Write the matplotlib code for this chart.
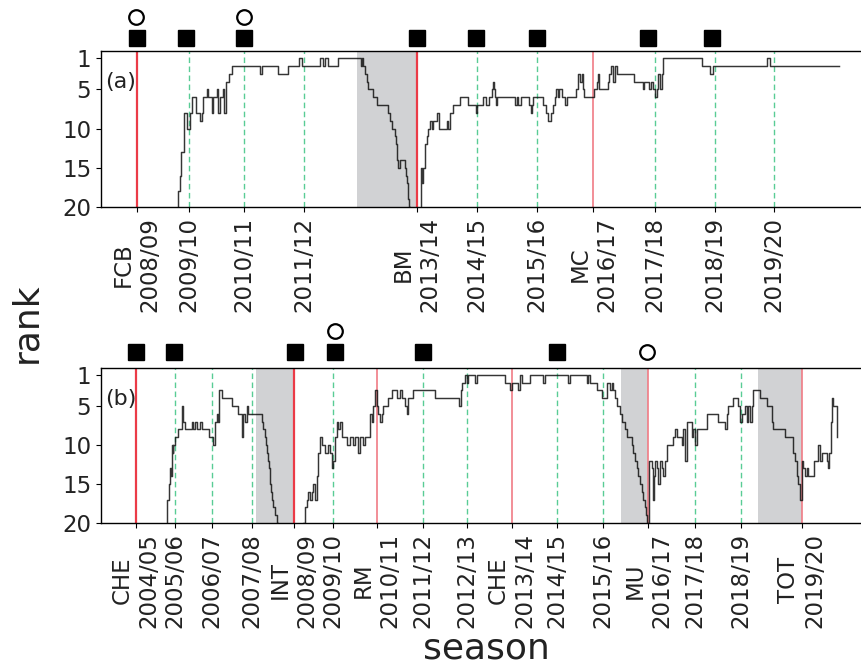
import numpy as np
import matplotlib.pyplot as plt
import matplotlib.transforms as mtransforms

# ---- panel (a) ----
a_x = [76.3, 77.3, 79, 80, 83.3, 85.7, 89, 90.7, 95, 99, 100.7, 102.3, 105.7, 107.3, 110.7,
       112.3, 116.3, 117.3, 119, 121.7, 123, 125, 128.3, 130.7, 159, 160.7, 177.3, 187.3,
       198.3, 200.7, 219, 222.3, 224, 227.3, 237.3, 259.7, 261, 262, 264, 265.7, 267.3,
       271.7, 275.7, 287.3, 289, 290.7, 294, 295, 295.7, 296.3, 297.3, 299, 304, 305, 305.7,
       306.7, 307.3, 308.3, 309, 320, 321.3, 322.3, 324, 325.7, 327.3, 329, 330.7, 332.3,
       335.7, 338.3, 345.7, 347.3, 349, 351.7, 359, 367.3, 375, 376.3, 382.3, 385, 388.3,
       390.7, 391.7, 392.7, 393.7, 394.7, 395.7, 414, 415.7, 417.3, 419.7, 428.3, 429.7, 431,
       432.3, 442.3, 445, 447, 449.7, 452.3, 454, 455, 456.7, 458.3, 460.7, 464, 466.3, 475,
       476.7, 479, 480.7, 482.3, 483, 493.3, 495.7, 497, 498.3, 507.3, 508.3, 510, 512.3, 514,
       515.7, 533, 541.7, 543.3, 548.3, 550, 551.7, 553.7, 555.7, 557.3, 559, 560.7, 562.3,
       601, 609, 612.3, 665.7, 669, 738]
a_rank = [21, 18, 16, 13, 8, 10, 8, 6, 8, 9, 8, 6, 5, 6, 8,
          6, 5, 8, 6, 5, 8, 4, 3, 2, 3, 2, 3, 2,
          1, 2, 1, 2, 1, 2, 1, 2, 1, 2, 3, 4, 5,
          6, 7, 8, 9, 10, 11, 12, 13, 14, 15, 14, 15, 16, 17,
          18, 19, 20, 22, 15, 17, 15, 12, 11, 10, 9, 10, 9,
          8, 10, 9, 10, 8, 7, 6, 7, 8, 7, 6, 7, 6,
          5, 4, 5, 6, 7, 6, 7, 6, 7, 6, 7, 8, 7,
          6, 7, 8, 9, 8, 7, 6, 5, 6, 5, 6, 7, 6, 5,
          3, 4, 3, 5, 6, 5, 4, 3, 5, 4, 3, 2, 4, 2,
          3, 4, 5, 4, 5, 4, 5, 6, 5, 3, 5, 3, 1,
          2, 3, 2, 1, 2, 2]
a_ticks = [35.5, 88.3, 142.7, 202.7, 315.7, 375.7, 435.7, 492.3, 554, 613.7, 673]
a_labels = ['FCB\n2008/09', '2009/10', '2010/11', '2011/12', 'BM\n2013/14', '2014/15',
            '2015/16', 'MC\n2016/17', '2017/18', '2018/19', '2019/20']
a_red = [35.5, 315.7, 492.3]
a_green = [88.3, 142.7, 202.7, 375.7, 435.7, 554, 613.7, 673]
a_gray = [(256.3, 315)]
a_squares = [35.7, 84.7, 142.7, 316.3, 374.7, 435.7, 547.3, 610.7]
a_circles = [34.7, 142.7]
a_circle_row = [2, 2]

# ---- panel (b) ----
b_x = [65, 66.3, 68.3, 69, 70, 70.7, 71.7, 72.3, 74, 77.3, 80.7, 82.3, 84, 90.7, 92.3, 94,
       95.7, 99, 100.7, 108.3, 112.3, 114, 115.7, 117.3, 118.3, 120.7, 130.7, 137.3, 140.7,
       142.3, 144, 145.7, 147.3, 160.7, 162.3, 164, 165, 166.3, 167.3, 168.3, 169, 170, 171,
       172.3, 174, 175.7, 176.7, 202.3, 204, 205.7, 207.3, 209, 210.7, 212.3, 214, 215.7,
       217.3, 219, 220.7, 224, 227.3, 229, 230.7, 232.3, 234, 235.7, 237.3, 239, 240.7,
       245.7, 249, 252.3, 254, 257.3, 259, 262.3, 264, 269, 270.7, 272.3, 274, 275.7, 277.3,
       279, 280.7, 282.3, 287.3, 290.7, 295.7, 299, 300.7, 304, 305.7, 307.3, 312.3, 334,
       358.3, 359.7, 360.7, 364, 365.7, 367.3, 374, 375.7, 404, 409, 410.7, 417.3, 419,
       420.7, 429, 442.3, 444, 467.3, 469, 485.7, 487.3, 489, 495.7, 500.7, 505.7, 509,
       510.7, 512.3, 514, 515.7, 519, 520.7, 524, 525.7, 530.7, 532.3, 534, 535.7, 537.3,
       539, 540.7, 542.3, 544, 545, 545.7, 547.3, 548.3, 550.7, 551.7, 553, 554, 555.7,
       557.3, 559, 560.7, 562.3, 564, 565.7, 572.3, 574, 575.7, 580.7, 582.3, 584, 585.7,
       590.7, 592.3, 594, 595.7, 605.7, 617.3, 624, 625.7, 627.3, 632.3, 637.3, 639, 640.7,
       644, 645.7, 647.3, 649, 650.7, 652.3, 659, 665.7, 670.7, 672.3, 684, 692.3, 694,
       695.7, 697.3, 699, 700.7, 702.3, 704, 705.7, 707.3, 713, 717.3, 719, 720.7, 725.7,
       727.3, 728.3, 729.7, 730.7, 732.3, 735.7, 736]
b_rank = [21, 17, 15, 13, 14, 10, 11, 10, 9, 8, 5, 7, 8, 7, 8, 7,
          8, 7, 8, 9, 10, 7, 6, 7, 3, 4, 5, 6, 9,
          6, 7, 5, 6, 7, 8, 9, 10, 11, 12, 13, 15, 16, 17,
          18, 19, 20, 22, 20, 18, 17, 16, 17, 16, 15, 17, 14,
          11, 9, 10, 11, 10, 11, 13, 12, 9, 7, 8, 7, 9,
          10, 9, 10, 9, 11, 9, 10, 9, 6, 7, 5, 3, 5, 6,
          7, 6, 5, 4, 3, 4, 3, 4, 5, 6, 4, 3, 4,
          5, 3, 2, 1, 2, 1, 2, 1, 2, 3, 2, 3, 1,
          2, 1, 2, 1, 2, 1, 2, 1, 2, 3, 4, 2, 3,
          2, 3, 4, 5, 6, 7, 8, 9, 10, 11, 12, 13, 14,
          15, 16, 17, 18, 19, 20, 22, 12, 13, 17, 14, 12, 13,
          15, 12, 13, 14, 12, 10, 9, 8, 9, 10, 8, 12, 7,
          9, 8, 10, 8, 6, 7, 8, 6, 5, 4, 5, 7, 6,
          5, 7, 5, 7, 5, 3, 4, 5, 7, 8, 9, 11, 12,
          14, 15, 17, 12, 13, 14, 13, 14, 12, 10, 12, 11, 12,
          13, 11, 7, 4, 5, 9, 9]
b_ticks = [35, 74, 111.3, 151.3, 192.7, 232.3, 275.7, 322, 366, 410.7, 456.3, 502, 547.3,
           593.7, 640, 700.7]
b_labels = ['CHE\n2004/05', '2005/06', '2006/07', '2007/08', 'INT\n2008/09', '2009/10',
            'RM\n2010/11', '2011/12', '2012/13', 'CHE\n2013/14', '2014/15', '2015/16',
            'MU\n2016/17', '2017/18', '2018/19', 'TOT\n2019/20']
b_red = [35, 192.7, 275.7, 410.7, 547.3, 700.7]
b_green = [74, 111.3, 151.3, 232.3, 322, 366, 456.3, 502, 593.7, 640]
b_gray = [(154.7, 192.7), (520, 546.7), (657.3, 700.7)]
b_squares = [34.7, 73.3, 194.3, 234, 322.3, 455.7]
b_circles = [233.7, 546.3]
b_circle_row = [2, 1]

plt.rcParams['font.family'] = 'DejaVu Sans'
fig = plt.figure(figsize=(8.62, 6.66), dpi=100)

# axes run past the right edge of the figure (as in the original crop)
panels = [
    ([0.1172, 0.6892, 0.95, 0.2342], a_x, a_rank, a_ticks, a_labels, a_red, a_green, a_gray,
     a_squares, a_circles, a_circle_row, '(a)', (1.083, 1.218)),
    ([0.1172, 0.2147, 0.95, 0.2332], b_x, b_rank, b_ticks, b_labels, b_red, b_green, b_gray,
     b_squares, b_circles, b_circle_row, '(b)', (1.103, 1.238)),
]

red_styles = {0: ('#eb3b47', 1.6), 1: ('#f07c85', 1.2)}

for (rect, xs, rk, ticks, labels, reds, greens, grays, sq, ci, ci_row, tag, rows) in panels:
    ax = fig.add_axes(rect)
    for x0, x1 in grays:
        ax.axvspan(x0, x1, color='#d1d2d4', lw=0, zorder=0)
    for i, xr in enumerate(reds):
        c, lw = red_styles[0] if i < 2 else red_styles[1]
        ax.axvline(xr, color=c, lw=lw, zorder=1)
    for xg in greens:
        ax.axvline(xg, color='#3cc483', lw=1, ls=(0, (4, 2.5)), alpha=0.85, zorder=1)
    ax.step(xs, rk, where='post', color='#111111', lw=1.05, alpha=0.85, zorder=3)

    trans = mtransforms.blended_transform_factory(ax.transData, ax.transAxes)
    ax.plot(sq, [rows[0]] * len(sq), 's', color='black', ms=11, transform=trans,
            clip_on=False)
    ci_y = [rows[0] if r == 1 else rows[1] for r in ci_row]
    ax.plot(ci, ci_y, 'o', mfc='white', mec='black', mew=1.6, ms=10.5, transform=trans,
            clip_on=False)

    ax.set_xlim(0, 0.95 * 862)
    ax.set_ylim(20, 0.1)
    ax.set_yticks([1, 5, 10, 15, 20])
    ax.set_xticks(ticks)
    ax.set_xticklabels(labels, rotation=90, fontsize=16.5, color='#222222')
    ax.tick_params(axis='y', labelsize=16.5, labelcolor='#222222')
    ax.text(0.005 / 0.95 * 0.8933, 0.8, tag, transform=ax.transAxes, fontsize=16,
            va='center', ha='left', color='#222222')
    ax.spines['right'].set_visible(False)
    for s in ax.spines.values():
        s.set_linewidth(1.0)

fig.text(0.031, 0.515, 'rank', rotation=90, fontsize=26, va='center', ha='center',
         color='#222222')
fig.text(0.564, 0.027, 'season', fontsize=26, va='center', ha='center', color='#222222')

plt.savefig('out.png', dpi=100)
